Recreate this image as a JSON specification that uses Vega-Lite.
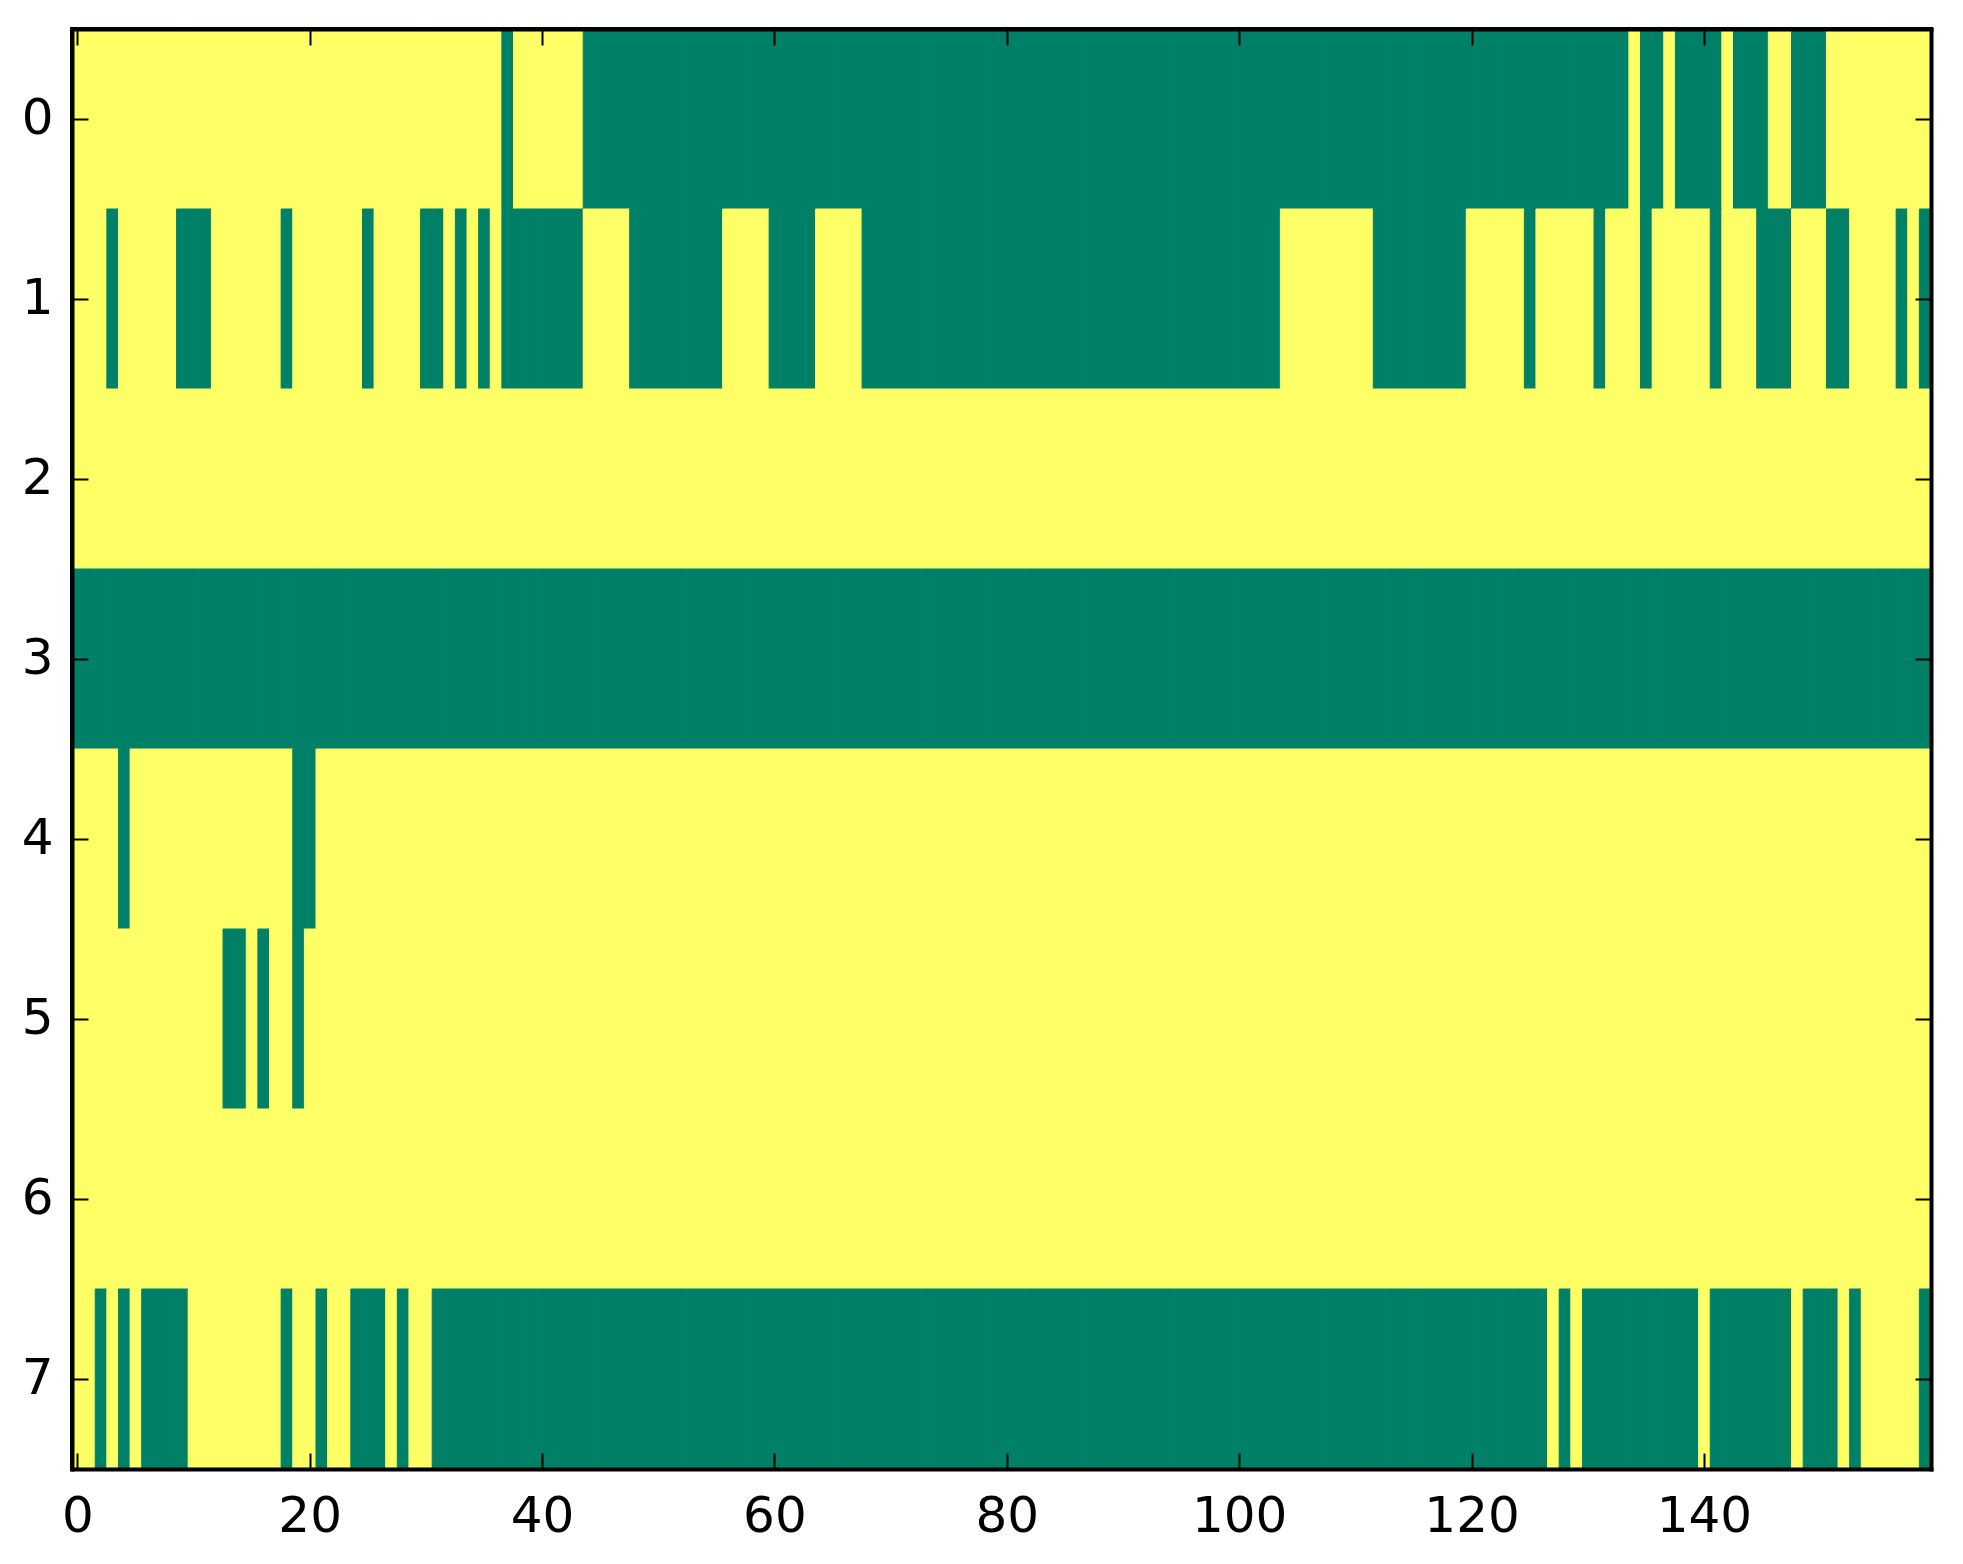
{
  "$schema": "https://vega.github.io/schema/vega-lite/v6.json",
  "width": 1859,
  "height": 1440,
  "autosize": "none",
  "padding": {"left": 72, "top": 29, "right": 32, "bottom": 95},
  "background": "white",
  "config": {
    "font": "DejaVu Sans",
    "view": {"stroke": "black", "strokeWidth": 4},
    "axis": {
      "title": null,
      "domain": true,
      "domainColor": "black",
      "domainWidth": 4,
      "domainCap": "square",
      "grid": false,
      "tickColor": "black",
      "tickWidth": 2,
      "tickSize": -16,
      "labelFont": "DejaVu Sans",
      "labelFontSize": 50,
      "labelColor": "black",
      "labelAngle": 0
    }
  },
  "data": {
    "values": [
      {"r":0,"c":0,"v":0},{"r":0,"c":1,"v":0},{"r":0,"c":2,"v":0},{"r":0,"c":3,"v":0},{"r":0,"c":4,"v":0},{"r":0,"c":5,"v":0},{"r":0,"c":6,"v":0},{"r":0,"c":7,"v":0},{"r":0,"c":8,"v":0},{"r":0,"c":9,"v":0},
      {"r":0,"c":10,"v":0},{"r":0,"c":11,"v":0},{"r":0,"c":12,"v":0},{"r":0,"c":13,"v":0},{"r":0,"c":14,"v":0},{"r":0,"c":15,"v":0},{"r":0,"c":16,"v":0},{"r":0,"c":17,"v":0},{"r":0,"c":18,"v":0},{"r":0,"c":19,"v":0},
      {"r":0,"c":20,"v":0},{"r":0,"c":21,"v":0},{"r":0,"c":22,"v":0},{"r":0,"c":23,"v":0},{"r":0,"c":24,"v":0},{"r":0,"c":25,"v":0},{"r":0,"c":26,"v":0},{"r":0,"c":27,"v":0},{"r":0,"c":28,"v":0},{"r":0,"c":29,"v":0},
      {"r":0,"c":30,"v":0},{"r":0,"c":31,"v":0},{"r":0,"c":32,"v":0},{"r":0,"c":33,"v":0},{"r":0,"c":34,"v":0},{"r":0,"c":35,"v":0},{"r":0,"c":36,"v":0},{"r":0,"c":37,"v":1},{"r":0,"c":38,"v":0},{"r":0,"c":39,"v":0},
      {"r":0,"c":40,"v":0},{"r":0,"c":41,"v":0},{"r":0,"c":42,"v":0},{"r":0,"c":43,"v":0},{"r":0,"c":44,"v":1},{"r":0,"c":45,"v":1},{"r":0,"c":46,"v":1},{"r":0,"c":47,"v":1},{"r":0,"c":48,"v":1},{"r":0,"c":49,"v":1},
      {"r":0,"c":50,"v":1},{"r":0,"c":51,"v":1},{"r":0,"c":52,"v":1},{"r":0,"c":53,"v":1},{"r":0,"c":54,"v":1},{"r":0,"c":55,"v":1},{"r":0,"c":56,"v":1},{"r":0,"c":57,"v":1},{"r":0,"c":58,"v":1},{"r":0,"c":59,"v":1},
      {"r":0,"c":60,"v":1},{"r":0,"c":61,"v":1},{"r":0,"c":62,"v":1},{"r":0,"c":63,"v":1},{"r":0,"c":64,"v":1},{"r":0,"c":65,"v":1},{"r":0,"c":66,"v":1},{"r":0,"c":67,"v":1},{"r":0,"c":68,"v":1},{"r":0,"c":69,"v":1},
      {"r":0,"c":70,"v":1},{"r":0,"c":71,"v":1},{"r":0,"c":72,"v":1},{"r":0,"c":73,"v":1},{"r":0,"c":74,"v":1},{"r":0,"c":75,"v":1},{"r":0,"c":76,"v":1},{"r":0,"c":77,"v":1},{"r":0,"c":78,"v":1},{"r":0,"c":79,"v":1},
      {"r":0,"c":80,"v":1},{"r":0,"c":81,"v":1},{"r":0,"c":82,"v":1},{"r":0,"c":83,"v":1},{"r":0,"c":84,"v":1},{"r":0,"c":85,"v":1},{"r":0,"c":86,"v":1},{"r":0,"c":87,"v":1},{"r":0,"c":88,"v":1},{"r":0,"c":89,"v":1},
      {"r":0,"c":90,"v":1},{"r":0,"c":91,"v":1},{"r":0,"c":92,"v":1},{"r":0,"c":93,"v":1},{"r":0,"c":94,"v":1},{"r":0,"c":95,"v":1},{"r":0,"c":96,"v":1},{"r":0,"c":97,"v":1},{"r":0,"c":98,"v":1},{"r":0,"c":99,"v":1},
      {"r":0,"c":100,"v":1},{"r":0,"c":101,"v":1},{"r":0,"c":102,"v":1},{"r":0,"c":103,"v":1},{"r":0,"c":104,"v":1},{"r":0,"c":105,"v":1},{"r":0,"c":106,"v":1},{"r":0,"c":107,"v":1},{"r":0,"c":108,"v":1},{"r":0,"c":109,"v":1},
      {"r":0,"c":110,"v":1},{"r":0,"c":111,"v":1},{"r":0,"c":112,"v":1},{"r":0,"c":113,"v":1},{"r":0,"c":114,"v":1},{"r":0,"c":115,"v":1},{"r":0,"c":116,"v":1},{"r":0,"c":117,"v":1},{"r":0,"c":118,"v":1},{"r":0,"c":119,"v":1},
      {"r":0,"c":120,"v":1},{"r":0,"c":121,"v":1},{"r":0,"c":122,"v":1},{"r":0,"c":123,"v":1},{"r":0,"c":124,"v":1},{"r":0,"c":125,"v":1},{"r":0,"c":126,"v":1},{"r":0,"c":127,"v":1},{"r":0,"c":128,"v":1},{"r":0,"c":129,"v":1},
      {"r":0,"c":130,"v":1},{"r":0,"c":131,"v":1},{"r":0,"c":132,"v":1},{"r":0,"c":133,"v":1},{"r":0,"c":134,"v":0},{"r":0,"c":135,"v":1},{"r":0,"c":136,"v":1},{"r":0,"c":137,"v":0},{"r":0,"c":138,"v":1},{"r":0,"c":139,"v":1},
      {"r":0,"c":140,"v":1},{"r":0,"c":141,"v":1},{"r":0,"c":142,"v":0},{"r":0,"c":143,"v":1},{"r":0,"c":144,"v":1},{"r":0,"c":145,"v":1},{"r":0,"c":146,"v":0},{"r":0,"c":147,"v":0},{"r":0,"c":148,"v":1},{"r":0,"c":149,"v":1},
      {"r":0,"c":150,"v":1},{"r":0,"c":151,"v":0},{"r":0,"c":152,"v":0},{"r":0,"c":153,"v":0},{"r":0,"c":154,"v":0},{"r":0,"c":155,"v":0},{"r":0,"c":156,"v":0},{"r":0,"c":157,"v":0},{"r":0,"c":158,"v":0},{"r":0,"c":159,"v":0},

      {"r":1,"c":0,"v":0},{"r":1,"c":1,"v":0},{"r":1,"c":2,"v":0},{"r":1,"c":3,"v":1},{"r":1,"c":4,"v":0},{"r":1,"c":5,"v":0},{"r":1,"c":6,"v":0},{"r":1,"c":7,"v":0},{"r":1,"c":8,"v":0},{"r":1,"c":9,"v":1},
      {"r":1,"c":10,"v":1},{"r":1,"c":11,"v":1},{"r":1,"c":12,"v":0},{"r":1,"c":13,"v":0},{"r":1,"c":14,"v":0},{"r":1,"c":15,"v":0},{"r":1,"c":16,"v":0},{"r":1,"c":17,"v":0},{"r":1,"c":18,"v":1},{"r":1,"c":19,"v":0},
      {"r":1,"c":20,"v":0},{"r":1,"c":21,"v":0},{"r":1,"c":22,"v":0},{"r":1,"c":23,"v":0},{"r":1,"c":24,"v":0},{"r":1,"c":25,"v":1},{"r":1,"c":26,"v":0},{"r":1,"c":27,"v":0},{"r":1,"c":28,"v":0},{"r":1,"c":29,"v":0},
      {"r":1,"c":30,"v":1},{"r":1,"c":31,"v":1},{"r":1,"c":32,"v":0},{"r":1,"c":33,"v":1},{"r":1,"c":34,"v":0},{"r":1,"c":35,"v":1},{"r":1,"c":36,"v":0},{"r":1,"c":37,"v":1},{"r":1,"c":38,"v":1},{"r":1,"c":39,"v":1},
      {"r":1,"c":40,"v":1},{"r":1,"c":41,"v":1},{"r":1,"c":42,"v":1},{"r":1,"c":43,"v":1},{"r":1,"c":44,"v":0},{"r":1,"c":45,"v":0},{"r":1,"c":46,"v":0},{"r":1,"c":47,"v":0},{"r":1,"c":48,"v":1},{"r":1,"c":49,"v":1},
      {"r":1,"c":50,"v":1},{"r":1,"c":51,"v":1},{"r":1,"c":52,"v":1},{"r":1,"c":53,"v":1},{"r":1,"c":54,"v":1},{"r":1,"c":55,"v":1},{"r":1,"c":56,"v":0},{"r":1,"c":57,"v":0},{"r":1,"c":58,"v":0},{"r":1,"c":59,"v":0},
      {"r":1,"c":60,"v":1},{"r":1,"c":61,"v":1},{"r":1,"c":62,"v":1},{"r":1,"c":63,"v":1},{"r":1,"c":64,"v":0},{"r":1,"c":65,"v":0},{"r":1,"c":66,"v":0},{"r":1,"c":67,"v":0},{"r":1,"c":68,"v":1},{"r":1,"c":69,"v":1},
      {"r":1,"c":70,"v":1},{"r":1,"c":71,"v":1},{"r":1,"c":72,"v":1},{"r":1,"c":73,"v":1},{"r":1,"c":74,"v":1},{"r":1,"c":75,"v":1},{"r":1,"c":76,"v":1},{"r":1,"c":77,"v":1},{"r":1,"c":78,"v":1},{"r":1,"c":79,"v":1},
      {"r":1,"c":80,"v":1},{"r":1,"c":81,"v":1},{"r":1,"c":82,"v":1},{"r":1,"c":83,"v":1},{"r":1,"c":84,"v":1},{"r":1,"c":85,"v":1},{"r":1,"c":86,"v":1},{"r":1,"c":87,"v":1},{"r":1,"c":88,"v":1},{"r":1,"c":89,"v":1},
      {"r":1,"c":90,"v":1},{"r":1,"c":91,"v":1},{"r":1,"c":92,"v":1},{"r":1,"c":93,"v":1},{"r":1,"c":94,"v":1},{"r":1,"c":95,"v":1},{"r":1,"c":96,"v":1},{"r":1,"c":97,"v":1},{"r":1,"c":98,"v":1},{"r":1,"c":99,"v":1},
      {"r":1,"c":100,"v":1},{"r":1,"c":101,"v":1},{"r":1,"c":102,"v":1},{"r":1,"c":103,"v":1},{"r":1,"c":104,"v":0},{"r":1,"c":105,"v":0},{"r":1,"c":106,"v":0},{"r":1,"c":107,"v":0},{"r":1,"c":108,"v":0},{"r":1,"c":109,"v":0},
      {"r":1,"c":110,"v":0},{"r":1,"c":111,"v":0},{"r":1,"c":112,"v":1},{"r":1,"c":113,"v":1},{"r":1,"c":114,"v":1},{"r":1,"c":115,"v":1},{"r":1,"c":116,"v":1},{"r":1,"c":117,"v":1},{"r":1,"c":118,"v":1},{"r":1,"c":119,"v":1},
      {"r":1,"c":120,"v":0},{"r":1,"c":121,"v":0},{"r":1,"c":122,"v":0},{"r":1,"c":123,"v":0},{"r":1,"c":124,"v":0},{"r":1,"c":125,"v":1},{"r":1,"c":126,"v":0},{"r":1,"c":127,"v":0},{"r":1,"c":128,"v":0},{"r":1,"c":129,"v":0},
      {"r":1,"c":130,"v":0},{"r":1,"c":131,"v":1},{"r":1,"c":132,"v":0},{"r":1,"c":133,"v":0},{"r":1,"c":134,"v":0},{"r":1,"c":135,"v":1},{"r":1,"c":136,"v":0},{"r":1,"c":137,"v":0},{"r":1,"c":138,"v":0},{"r":1,"c":139,"v":0},
      {"r":1,"c":140,"v":0},{"r":1,"c":141,"v":1},{"r":1,"c":142,"v":0},{"r":1,"c":143,"v":0},{"r":1,"c":144,"v":0},{"r":1,"c":145,"v":1},{"r":1,"c":146,"v":1},{"r":1,"c":147,"v":1},{"r":1,"c":148,"v":0},{"r":1,"c":149,"v":0},
      {"r":1,"c":150,"v":0},{"r":1,"c":151,"v":1},{"r":1,"c":152,"v":1},{"r":1,"c":153,"v":0},{"r":1,"c":154,"v":0},{"r":1,"c":155,"v":0},{"r":1,"c":156,"v":0},{"r":1,"c":157,"v":1},{"r":1,"c":158,"v":0},{"r":1,"c":159,"v":1},

      {"r":2,"c":0,"v":0},{"r":2,"c":1,"v":0},{"r":2,"c":2,"v":0},{"r":2,"c":3,"v":0},{"r":2,"c":4,"v":0},{"r":2,"c":5,"v":0},{"r":2,"c":6,"v":0},{"r":2,"c":7,"v":0},{"r":2,"c":8,"v":0},{"r":2,"c":9,"v":0},
      {"r":2,"c":10,"v":0},{"r":2,"c":11,"v":0},{"r":2,"c":12,"v":0},{"r":2,"c":13,"v":0},{"r":2,"c":14,"v":0},{"r":2,"c":15,"v":0},{"r":2,"c":16,"v":0},{"r":2,"c":17,"v":0},{"r":2,"c":18,"v":0},{"r":2,"c":19,"v":0},
      {"r":2,"c":20,"v":0},{"r":2,"c":21,"v":0},{"r":2,"c":22,"v":0},{"r":2,"c":23,"v":0},{"r":2,"c":24,"v":0},{"r":2,"c":25,"v":0},{"r":2,"c":26,"v":0},{"r":2,"c":27,"v":0},{"r":2,"c":28,"v":0},{"r":2,"c":29,"v":0},
      {"r":2,"c":30,"v":0},{"r":2,"c":31,"v":0},{"r":2,"c":32,"v":0},{"r":2,"c":33,"v":0},{"r":2,"c":34,"v":0},{"r":2,"c":35,"v":0},{"r":2,"c":36,"v":0},{"r":2,"c":37,"v":0},{"r":2,"c":38,"v":0},{"r":2,"c":39,"v":0},
      {"r":2,"c":40,"v":0},{"r":2,"c":41,"v":0},{"r":2,"c":42,"v":0},{"r":2,"c":43,"v":0},{"r":2,"c":44,"v":0},{"r":2,"c":45,"v":0},{"r":2,"c":46,"v":0},{"r":2,"c":47,"v":0},{"r":2,"c":48,"v":0},{"r":2,"c":49,"v":0},
      {"r":2,"c":50,"v":0},{"r":2,"c":51,"v":0},{"r":2,"c":52,"v":0},{"r":2,"c":53,"v":0},{"r":2,"c":54,"v":0},{"r":2,"c":55,"v":0},{"r":2,"c":56,"v":0},{"r":2,"c":57,"v":0},{"r":2,"c":58,"v":0},{"r":2,"c":59,"v":0},
      {"r":2,"c":60,"v":0},{"r":2,"c":61,"v":0},{"r":2,"c":62,"v":0},{"r":2,"c":63,"v":0},{"r":2,"c":64,"v":0},{"r":2,"c":65,"v":0},{"r":2,"c":66,"v":0},{"r":2,"c":67,"v":0},{"r":2,"c":68,"v":0},{"r":2,"c":69,"v":0},
      {"r":2,"c":70,"v":0},{"r":2,"c":71,"v":0},{"r":2,"c":72,"v":0},{"r":2,"c":73,"v":0},{"r":2,"c":74,"v":0},{"r":2,"c":75,"v":0},{"r":2,"c":76,"v":0},{"r":2,"c":77,"v":0},{"r":2,"c":78,"v":0},{"r":2,"c":79,"v":0},
      {"r":2,"c":80,"v":0},{"r":2,"c":81,"v":0},{"r":2,"c":82,"v":0},{"r":2,"c":83,"v":0},{"r":2,"c":84,"v":0},{"r":2,"c":85,"v":0},{"r":2,"c":86,"v":0},{"r":2,"c":87,"v":0},{"r":2,"c":88,"v":0},{"r":2,"c":89,"v":0},
      {"r":2,"c":90,"v":0},{"r":2,"c":91,"v":0},{"r":2,"c":92,"v":0},{"r":2,"c":93,"v":0},{"r":2,"c":94,"v":0},{"r":2,"c":95,"v":0},{"r":2,"c":96,"v":0},{"r":2,"c":97,"v":0},{"r":2,"c":98,"v":0},{"r":2,"c":99,"v":0},
      {"r":2,"c":100,"v":0},{"r":2,"c":101,"v":0},{"r":2,"c":102,"v":0},{"r":2,"c":103,"v":0},{"r":2,"c":104,"v":0},{"r":2,"c":105,"v":0},{"r":2,"c":106,"v":0},{"r":2,"c":107,"v":0},{"r":2,"c":108,"v":0},{"r":2,"c":109,"v":0},
      {"r":2,"c":110,"v":0},{"r":2,"c":111,"v":0},{"r":2,"c":112,"v":0},{"r":2,"c":113,"v":0},{"r":2,"c":114,"v":0},{"r":2,"c":115,"v":0},{"r":2,"c":116,"v":0},{"r":2,"c":117,"v":0},{"r":2,"c":118,"v":0},{"r":2,"c":119,"v":0},
      {"r":2,"c":120,"v":0},{"r":2,"c":121,"v":0},{"r":2,"c":122,"v":0},{"r":2,"c":123,"v":0},{"r":2,"c":124,"v":0},{"r":2,"c":125,"v":0},{"r":2,"c":126,"v":0},{"r":2,"c":127,"v":0},{"r":2,"c":128,"v":0},{"r":2,"c":129,"v":0},
      {"r":2,"c":130,"v":0},{"r":2,"c":131,"v":0},{"r":2,"c":132,"v":0},{"r":2,"c":133,"v":0},{"r":2,"c":134,"v":0},{"r":2,"c":135,"v":0},{"r":2,"c":136,"v":0},{"r":2,"c":137,"v":0},{"r":2,"c":138,"v":0},{"r":2,"c":139,"v":0},
      {"r":2,"c":140,"v":0},{"r":2,"c":141,"v":0},{"r":2,"c":142,"v":0},{"r":2,"c":143,"v":0},{"r":2,"c":144,"v":0},{"r":2,"c":145,"v":0},{"r":2,"c":146,"v":0},{"r":2,"c":147,"v":0},{"r":2,"c":148,"v":0},{"r":2,"c":149,"v":0},
      {"r":2,"c":150,"v":0},{"r":2,"c":151,"v":0},{"r":2,"c":152,"v":0},{"r":2,"c":153,"v":0},{"r":2,"c":154,"v":0},{"r":2,"c":155,"v":0},{"r":2,"c":156,"v":0},{"r":2,"c":157,"v":0},{"r":2,"c":158,"v":0},{"r":2,"c":159,"v":0},

      {"r":3,"c":0,"v":1},{"r":3,"c":1,"v":1},{"r":3,"c":2,"v":1},{"r":3,"c":3,"v":1},{"r":3,"c":4,"v":1},{"r":3,"c":5,"v":1},{"r":3,"c":6,"v":1},{"r":3,"c":7,"v":1},{"r":3,"c":8,"v":1},{"r":3,"c":9,"v":1},
      {"r":3,"c":10,"v":1},{"r":3,"c":11,"v":1},{"r":3,"c":12,"v":1},{"r":3,"c":13,"v":1},{"r":3,"c":14,"v":1},{"r":3,"c":15,"v":1},{"r":3,"c":16,"v":1},{"r":3,"c":17,"v":1},{"r":3,"c":18,"v":1},{"r":3,"c":19,"v":1},
      {"r":3,"c":20,"v":1},{"r":3,"c":21,"v":1},{"r":3,"c":22,"v":1},{"r":3,"c":23,"v":1},{"r":3,"c":24,"v":1},{"r":3,"c":25,"v":1},{"r":3,"c":26,"v":1},{"r":3,"c":27,"v":1},{"r":3,"c":28,"v":1},{"r":3,"c":29,"v":1},
      {"r":3,"c":30,"v":1},{"r":3,"c":31,"v":1},{"r":3,"c":32,"v":1},{"r":3,"c":33,"v":1},{"r":3,"c":34,"v":1},{"r":3,"c":35,"v":1},{"r":3,"c":36,"v":1},{"r":3,"c":37,"v":1},{"r":3,"c":38,"v":1},{"r":3,"c":39,"v":1},
      {"r":3,"c":40,"v":1},{"r":3,"c":41,"v":1},{"r":3,"c":42,"v":1},{"r":3,"c":43,"v":1},{"r":3,"c":44,"v":1},{"r":3,"c":45,"v":1},{"r":3,"c":46,"v":1},{"r":3,"c":47,"v":1},{"r":3,"c":48,"v":1},{"r":3,"c":49,"v":1},
      {"r":3,"c":50,"v":1},{"r":3,"c":51,"v":1},{"r":3,"c":52,"v":1},{"r":3,"c":53,"v":1},{"r":3,"c":54,"v":1},{"r":3,"c":55,"v":1},{"r":3,"c":56,"v":1},{"r":3,"c":57,"v":1},{"r":3,"c":58,"v":1},{"r":3,"c":59,"v":1},
      {"r":3,"c":60,"v":1},{"r":3,"c":61,"v":1},{"r":3,"c":62,"v":1},{"r":3,"c":63,"v":1},{"r":3,"c":64,"v":1},{"r":3,"c":65,"v":1},{"r":3,"c":66,"v":1},{"r":3,"c":67,"v":1},{"r":3,"c":68,"v":1},{"r":3,"c":69,"v":1},
      {"r":3,"c":70,"v":1},{"r":3,"c":71,"v":1},{"r":3,"c":72,"v":1},{"r":3,"c":73,"v":1},{"r":3,"c":74,"v":1},{"r":3,"c":75,"v":1},{"r":3,"c":76,"v":1},{"r":3,"c":77,"v":1},{"r":3,"c":78,"v":1},{"r":3,"c":79,"v":1},
      {"r":3,"c":80,"v":1},{"r":3,"c":81,"v":1},{"r":3,"c":82,"v":1},{"r":3,"c":83,"v":1},{"r":3,"c":84,"v":1},{"r":3,"c":85,"v":1},{"r":3,"c":86,"v":1},{"r":3,"c":87,"v":1},{"r":3,"c":88,"v":1},{"r":3,"c":89,"v":1},
      {"r":3,"c":90,"v":1},{"r":3,"c":91,"v":1},{"r":3,"c":92,"v":1},{"r":3,"c":93,"v":1},{"r":3,"c":94,"v":1},{"r":3,"c":95,"v":1},{"r":3,"c":96,"v":1},{"r":3,"c":97,"v":1},{"r":3,"c":98,"v":1},{"r":3,"c":99,"v":1},
      {"r":3,"c":100,"v":1},{"r":3,"c":101,"v":1},{"r":3,"c":102,"v":1},{"r":3,"c":103,"v":1},{"r":3,"c":104,"v":1},{"r":3,"c":105,"v":1},{"r":3,"c":106,"v":1},{"r":3,"c":107,"v":1},{"r":3,"c":108,"v":1},{"r":3,"c":109,"v":1},
      {"r":3,"c":110,"v":1},{"r":3,"c":111,"v":1},{"r":3,"c":112,"v":1},{"r":3,"c":113,"v":1},{"r":3,"c":114,"v":1},{"r":3,"c":115,"v":1},{"r":3,"c":116,"v":1},{"r":3,"c":117,"v":1},{"r":3,"c":118,"v":1},{"r":3,"c":119,"v":1},
      {"r":3,"c":120,"v":1},{"r":3,"c":121,"v":1},{"r":3,"c":122,"v":1},{"r":3,"c":123,"v":1},{"r":3,"c":124,"v":1},{"r":3,"c":125,"v":1},{"r":3,"c":126,"v":1},{"r":3,"c":127,"v":1},{"r":3,"c":128,"v":1},{"r":3,"c":129,"v":1},
      {"r":3,"c":130,"v":1},{"r":3,"c":131,"v":1},{"r":3,"c":132,"v":1},{"r":3,"c":133,"v":1},{"r":3,"c":134,"v":1},{"r":3,"c":135,"v":1},{"r":3,"c":136,"v":1},{"r":3,"c":137,"v":1},{"r":3,"c":138,"v":1},{"r":3,"c":139,"v":1},
      {"r":3,"c":140,"v":1},{"r":3,"c":141,"v":1},{"r":3,"c":142,"v":1},{"r":3,"c":143,"v":1},{"r":3,"c":144,"v":1},{"r":3,"c":145,"v":1},{"r":3,"c":146,"v":1},{"r":3,"c":147,"v":1},{"r":3,"c":148,"v":1},{"r":3,"c":149,"v":1},
      {"r":3,"c":150,"v":1},{"r":3,"c":151,"v":1},{"r":3,"c":152,"v":1},{"r":3,"c":153,"v":1},{"r":3,"c":154,"v":1},{"r":3,"c":155,"v":1},{"r":3,"c":156,"v":1},{"r":3,"c":157,"v":1},{"r":3,"c":158,"v":1},{"r":3,"c":159,"v":1},

      {"r":4,"c":0,"v":0},{"r":4,"c":1,"v":0},{"r":4,"c":2,"v":0},{"r":4,"c":3,"v":0},{"r":4,"c":4,"v":1},{"r":4,"c":5,"v":0},{"r":4,"c":6,"v":0},{"r":4,"c":7,"v":0},{"r":4,"c":8,"v":0},{"r":4,"c":9,"v":0},
      {"r":4,"c":10,"v":0},{"r":4,"c":11,"v":0},{"r":4,"c":12,"v":0},{"r":4,"c":13,"v":0},{"r":4,"c":14,"v":0},{"r":4,"c":15,"v":0},{"r":4,"c":16,"v":0},{"r":4,"c":17,"v":0},{"r":4,"c":18,"v":0},{"r":4,"c":19,"v":1},
      {"r":4,"c":20,"v":1},{"r":4,"c":21,"v":0},{"r":4,"c":22,"v":0},{"r":4,"c":23,"v":0},{"r":4,"c":24,"v":0},{"r":4,"c":25,"v":0},{"r":4,"c":26,"v":0},{"r":4,"c":27,"v":0},{"r":4,"c":28,"v":0},{"r":4,"c":29,"v":0},
      {"r":4,"c":30,"v":0},{"r":4,"c":31,"v":0},{"r":4,"c":32,"v":0},{"r":4,"c":33,"v":0},{"r":4,"c":34,"v":0},{"r":4,"c":35,"v":0},{"r":4,"c":36,"v":0},{"r":4,"c":37,"v":0},{"r":4,"c":38,"v":0},{"r":4,"c":39,"v":0},
      {"r":4,"c":40,"v":0},{"r":4,"c":41,"v":0},{"r":4,"c":42,"v":0},{"r":4,"c":43,"v":0},{"r":4,"c":44,"v":0},{"r":4,"c":45,"v":0},{"r":4,"c":46,"v":0},{"r":4,"c":47,"v":0},{"r":4,"c":48,"v":0},{"r":4,"c":49,"v":0},
      {"r":4,"c":50,"v":0},{"r":4,"c":51,"v":0},{"r":4,"c":52,"v":0},{"r":4,"c":53,"v":0},{"r":4,"c":54,"v":0},{"r":4,"c":55,"v":0},{"r":4,"c":56,"v":0},{"r":4,"c":57,"v":0},{"r":4,"c":58,"v":0},{"r":4,"c":59,"v":0},
      {"r":4,"c":60,"v":0},{"r":4,"c":61,"v":0},{"r":4,"c":62,"v":0},{"r":4,"c":63,"v":0},{"r":4,"c":64,"v":0},{"r":4,"c":65,"v":0},{"r":4,"c":66,"v":0},{"r":4,"c":67,"v":0},{"r":4,"c":68,"v":0},{"r":4,"c":69,"v":0},
      {"r":4,"c":70,"v":0},{"r":4,"c":71,"v":0},{"r":4,"c":72,"v":0},{"r":4,"c":73,"v":0},{"r":4,"c":74,"v":0},{"r":4,"c":75,"v":0},{"r":4,"c":76,"v":0},{"r":4,"c":77,"v":0},{"r":4,"c":78,"v":0},{"r":4,"c":79,"v":0},
      {"r":4,"c":80,"v":0},{"r":4,"c":81,"v":0},{"r":4,"c":82,"v":0},{"r":4,"c":83,"v":0},{"r":4,"c":84,"v":0},{"r":4,"c":85,"v":0},{"r":4,"c":86,"v":0},{"r":4,"c":87,"v":0},{"r":4,"c":88,"v":0},{"r":4,"c":89,"v":0},
      {"r":4,"c":90,"v":0},{"r":4,"c":91,"v":0},{"r":4,"c":92,"v":0},{"r":4,"c":93,"v":0},{"r":4,"c":94,"v":0},{"r":4,"c":95,"v":0},{"r":4,"c":96,"v":0},{"r":4,"c":97,"v":0},{"r":4,"c":98,"v":0},{"r":4,"c":99,"v":0},
      {"r":4,"c":100,"v":0},{"r":4,"c":101,"v":0},{"r":4,"c":102,"v":0},{"r":4,"c":103,"v":0},{"r":4,"c":104,"v":0},{"r":4,"c":105,"v":0},{"r":4,"c":106,"v":0},{"r":4,"c":107,"v":0},{"r":4,"c":108,"v":0},{"r":4,"c":109,"v":0},
      {"r":4,"c":110,"v":0},{"r":4,"c":111,"v":0},{"r":4,"c":112,"v":0},{"r":4,"c":113,"v":0},{"r":4,"c":114,"v":0},{"r":4,"c":115,"v":0},{"r":4,"c":116,"v":0},{"r":4,"c":117,"v":0},{"r":4,"c":118,"v":0},{"r":4,"c":119,"v":0},
      {"r":4,"c":120,"v":0},{"r":4,"c":121,"v":0},{"r":4,"c":122,"v":0},{"r":4,"c":123,"v":0},{"r":4,"c":124,"v":0},{"r":4,"c":125,"v":0},{"r":4,"c":126,"v":0},{"r":4,"c":127,"v":0},{"r":4,"c":128,"v":0},{"r":4,"c":129,"v":0},
      {"r":4,"c":130,"v":0},{"r":4,"c":131,"v":0},{"r":4,"c":132,"v":0},{"r":4,"c":133,"v":0},{"r":4,"c":134,"v":0},{"r":4,"c":135,"v":0},{"r":4,"c":136,"v":0},{"r":4,"c":137,"v":0},{"r":4,"c":138,"v":0},{"r":4,"c":139,"v":0},
      {"r":4,"c":140,"v":0},{"r":4,"c":141,"v":0},{"r":4,"c":142,"v":0},{"r":4,"c":143,"v":0},{"r":4,"c":144,"v":0},{"r":4,"c":145,"v":0},{"r":4,"c":146,"v":0},{"r":4,"c":147,"v":0},{"r":4,"c":148,"v":0},{"r":4,"c":149,"v":0},
      {"r":4,"c":150,"v":0},{"r":4,"c":151,"v":0},{"r":4,"c":152,"v":0},{"r":4,"c":153,"v":0},{"r":4,"c":154,"v":0},{"r":4,"c":155,"v":0},{"r":4,"c":156,"v":0},{"r":4,"c":157,"v":0},{"r":4,"c":158,"v":0},{"r":4,"c":159,"v":0},

      {"r":5,"c":0,"v":0},{"r":5,"c":1,"v":0},{"r":5,"c":2,"v":0},{"r":5,"c":3,"v":0},{"r":5,"c":4,"v":0},{"r":5,"c":5,"v":0},{"r":5,"c":6,"v":0},{"r":5,"c":7,"v":0},{"r":5,"c":8,"v":0},{"r":5,"c":9,"v":0},
      {"r":5,"c":10,"v":0},{"r":5,"c":11,"v":0},{"r":5,"c":12,"v":0},{"r":5,"c":13,"v":1},{"r":5,"c":14,"v":1},{"r":5,"c":15,"v":0},{"r":5,"c":16,"v":1},{"r":5,"c":17,"v":0},{"r":5,"c":18,"v":0},{"r":5,"c":19,"v":1},
      {"r":5,"c":20,"v":0},{"r":5,"c":21,"v":0},{"r":5,"c":22,"v":0},{"r":5,"c":23,"v":0},{"r":5,"c":24,"v":0},{"r":5,"c":25,"v":0},{"r":5,"c":26,"v":0},{"r":5,"c":27,"v":0},{"r":5,"c":28,"v":0},{"r":5,"c":29,"v":0},
      {"r":5,"c":30,"v":0},{"r":5,"c":31,"v":0},{"r":5,"c":32,"v":0},{"r":5,"c":33,"v":0},{"r":5,"c":34,"v":0},{"r":5,"c":35,"v":0},{"r":5,"c":36,"v":0},{"r":5,"c":37,"v":0},{"r":5,"c":38,"v":0},{"r":5,"c":39,"v":0},
      {"r":5,"c":40,"v":0},{"r":5,"c":41,"v":0},{"r":5,"c":42,"v":0},{"r":5,"c":43,"v":0},{"r":5,"c":44,"v":0},{"r":5,"c":45,"v":0},{"r":5,"c":46,"v":0},{"r":5,"c":47,"v":0},{"r":5,"c":48,"v":0},{"r":5,"c":49,"v":0},
      {"r":5,"c":50,"v":0},{"r":5,"c":51,"v":0},{"r":5,"c":52,"v":0},{"r":5,"c":53,"v":0},{"r":5,"c":54,"v":0},{"r":5,"c":55,"v":0},{"r":5,"c":56,"v":0},{"r":5,"c":57,"v":0},{"r":5,"c":58,"v":0},{"r":5,"c":59,"v":0},
      {"r":5,"c":60,"v":0},{"r":5,"c":61,"v":0},{"r":5,"c":62,"v":0},{"r":5,"c":63,"v":0},{"r":5,"c":64,"v":0},{"r":5,"c":65,"v":0},{"r":5,"c":66,"v":0},{"r":5,"c":67,"v":0},{"r":5,"c":68,"v":0},{"r":5,"c":69,"v":0},
      {"r":5,"c":70,"v":0},{"r":5,"c":71,"v":0},{"r":5,"c":72,"v":0},{"r":5,"c":73,"v":0},{"r":5,"c":74,"v":0},{"r":5,"c":75,"v":0},{"r":5,"c":76,"v":0},{"r":5,"c":77,"v":0},{"r":5,"c":78,"v":0},{"r":5,"c":79,"v":0},
      {"r":5,"c":80,"v":0},{"r":5,"c":81,"v":0},{"r":5,"c":82,"v":0},{"r":5,"c":83,"v":0},{"r":5,"c":84,"v":0},{"r":5,"c":85,"v":0},{"r":5,"c":86,"v":0},{"r":5,"c":87,"v":0},{"r":5,"c":88,"v":0},{"r":5,"c":89,"v":0},
      {"r":5,"c":90,"v":0},{"r":5,"c":91,"v":0},{"r":5,"c":92,"v":0},{"r":5,"c":93,"v":0},{"r":5,"c":94,"v":0},{"r":5,"c":95,"v":0},{"r":5,"c":96,"v":0},{"r":5,"c":97,"v":0},{"r":5,"c":98,"v":0},{"r":5,"c":99,"v":0},
      {"r":5,"c":100,"v":0},{"r":5,"c":101,"v":0},{"r":5,"c":102,"v":0},{"r":5,"c":103,"v":0},{"r":5,"c":104,"v":0},{"r":5,"c":105,"v":0},{"r":5,"c":106,"v":0},{"r":5,"c":107,"v":0},{"r":5,"c":108,"v":0},{"r":5,"c":109,"v":0},
      {"r":5,"c":110,"v":0},{"r":5,"c":111,"v":0},{"r":5,"c":112,"v":0},{"r":5,"c":113,"v":0},{"r":5,"c":114,"v":0},{"r":5,"c":115,"v":0},{"r":5,"c":116,"v":0},{"r":5,"c":117,"v":0},{"r":5,"c":118,"v":0},{"r":5,"c":119,"v":0},
      {"r":5,"c":120,"v":0},{"r":5,"c":121,"v":0},{"r":5,"c":122,"v":0},{"r":5,"c":123,"v":0},{"r":5,"c":124,"v":0},{"r":5,"c":125,"v":0},{"r":5,"c":126,"v":0},{"r":5,"c":127,"v":0},{"r":5,"c":128,"v":0},{"r":5,"c":129,"v":0},
      {"r":5,"c":130,"v":0},{"r":5,"c":131,"v":0},{"r":5,"c":132,"v":0},{"r":5,"c":133,"v":0},{"r":5,"c":134,"v":0},{"r":5,"c":135,"v":0},{"r":5,"c":136,"v":0},{"r":5,"c":137,"v":0},{"r":5,"c":138,"v":0},{"r":5,"c":139,"v":0},
      {"r":5,"c":140,"v":0},{"r":5,"c":141,"v":0},{"r":5,"c":142,"v":0},{"r":5,"c":143,"v":0},{"r":5,"c":144,"v":0},{"r":5,"c":145,"v":0},{"r":5,"c":146,"v":0},{"r":5,"c":147,"v":0},{"r":5,"c":148,"v":0},{"r":5,"c":149,"v":0},
      {"r":5,"c":150,"v":0},{"r":5,"c":151,"v":0},{"r":5,"c":152,"v":0},{"r":5,"c":153,"v":0},{"r":5,"c":154,"v":0},{"r":5,"c":155,"v":0},{"r":5,"c":156,"v":0},{"r":5,"c":157,"v":0},{"r":5,"c":158,"v":0},{"r":5,"c":159,"v":0},

      {"r":6,"c":0,"v":0},{"r":6,"c":1,"v":0},{"r":6,"c":2,"v":0},{"r":6,"c":3,"v":0},{"r":6,"c":4,"v":0},{"r":6,"c":5,"v":0},{"r":6,"c":6,"v":0},{"r":6,"c":7,"v":0},{"r":6,"c":8,"v":0},{"r":6,"c":9,"v":0},
      {"r":6,"c":10,"v":0},{"r":6,"c":11,"v":0},{"r":6,"c":12,"v":0},{"r":6,"c":13,"v":0},{"r":6,"c":14,"v":0},{"r":6,"c":15,"v":0},{"r":6,"c":16,"v":0},{"r":6,"c":17,"v":0},{"r":6,"c":18,"v":0},{"r":6,"c":19,"v":0},
      {"r":6,"c":20,"v":0},{"r":6,"c":21,"v":0},{"r":6,"c":22,"v":0},{"r":6,"c":23,"v":0},{"r":6,"c":24,"v":0},{"r":6,"c":25,"v":0},{"r":6,"c":26,"v":0},{"r":6,"c":27,"v":0},{"r":6,"c":28,"v":0},{"r":6,"c":29,"v":0},
      {"r":6,"c":30,"v":0},{"r":6,"c":31,"v":0},{"r":6,"c":32,"v":0},{"r":6,"c":33,"v":0},{"r":6,"c":34,"v":0},{"r":6,"c":35,"v":0},{"r":6,"c":36,"v":0},{"r":6,"c":37,"v":0},{"r":6,"c":38,"v":0},{"r":6,"c":39,"v":0},
      {"r":6,"c":40,"v":0},{"r":6,"c":41,"v":0},{"r":6,"c":42,"v":0},{"r":6,"c":43,"v":0},{"r":6,"c":44,"v":0},{"r":6,"c":45,"v":0},{"r":6,"c":46,"v":0},{"r":6,"c":47,"v":0},{"r":6,"c":48,"v":0},{"r":6,"c":49,"v":0},
      {"r":6,"c":50,"v":0},{"r":6,"c":51,"v":0},{"r":6,"c":52,"v":0},{"r":6,"c":53,"v":0},{"r":6,"c":54,"v":0},{"r":6,"c":55,"v":0},{"r":6,"c":56,"v":0},{"r":6,"c":57,"v":0},{"r":6,"c":58,"v":0},{"r":6,"c":59,"v":0},
      {"r":6,"c":60,"v":0},{"r":6,"c":61,"v":0},{"r":6,"c":62,"v":0},{"r":6,"c":63,"v":0},{"r":6,"c":64,"v":0},{"r":6,"c":65,"v":0},{"r":6,"c":66,"v":0},{"r":6,"c":67,"v":0},{"r":6,"c":68,"v":0},{"r":6,"c":69,"v":0},
      {"r":6,"c":70,"v":0},{"r":6,"c":71,"v":0},{"r":6,"c":72,"v":0},{"r":6,"c":73,"v":0},{"r":6,"c":74,"v":0},{"r":6,"c":75,"v":0},{"r":6,"c":76,"v":0},{"r":6,"c":77,"v":0},{"r":6,"c":78,"v":0},{"r":6,"c":79,"v":0},
      {"r":6,"c":80,"v":0},{"r":6,"c":81,"v":0},{"r":6,"c":82,"v":0},{"r":6,"c":83,"v":0},{"r":6,"c":84,"v":0},{"r":6,"c":85,"v":0},{"r":6,"c":86,"v":0},{"r":6,"c":87,"v":0},{"r":6,"c":88,"v":0},{"r":6,"c":89,"v":0},
      {"r":6,"c":90,"v":0},{"r":6,"c":91,"v":0},{"r":6,"c":92,"v":0},{"r":6,"c":93,"v":0},{"r":6,"c":94,"v":0},{"r":6,"c":95,"v":0},{"r":6,"c":96,"v":0},{"r":6,"c":97,"v":0},{"r":6,"c":98,"v":0},{"r":6,"c":99,"v":0},
      {"r":6,"c":100,"v":0},{"r":6,"c":101,"v":0},{"r":6,"c":102,"v":0},{"r":6,"c":103,"v":0},{"r":6,"c":104,"v":0},{"r":6,"c":105,"v":0},{"r":6,"c":106,"v":0},{"r":6,"c":107,"v":0},{"r":6,"c":108,"v":0},{"r":6,"c":109,"v":0},
      {"r":6,"c":110,"v":0},{"r":6,"c":111,"v":0},{"r":6,"c":112,"v":0},{"r":6,"c":113,"v":0},{"r":6,"c":114,"v":0},{"r":6,"c":115,"v":0},{"r":6,"c":116,"v":0},{"r":6,"c":117,"v":0},{"r":6,"c":118,"v":0},{"r":6,"c":119,"v":0},
      {"r":6,"c":120,"v":0},{"r":6,"c":121,"v":0},{"r":6,"c":122,"v":0},{"r":6,"c":123,"v":0},{"r":6,"c":124,"v":0},{"r":6,"c":125,"v":0},{"r":6,"c":126,"v":0},{"r":6,"c":127,"v":0},{"r":6,"c":128,"v":0},{"r":6,"c":129,"v":0},
      {"r":6,"c":130,"v":0},{"r":6,"c":131,"v":0},{"r":6,"c":132,"v":0},{"r":6,"c":133,"v":0},{"r":6,"c":134,"v":0},{"r":6,"c":135,"v":0},{"r":6,"c":136,"v":0},{"r":6,"c":137,"v":0},{"r":6,"c":138,"v":0},{"r":6,"c":139,"v":0},
      {"r":6,"c":140,"v":0},{"r":6,"c":141,"v":0},{"r":6,"c":142,"v":0},{"r":6,"c":143,"v":0},{"r":6,"c":144,"v":0},{"r":6,"c":145,"v":0},{"r":6,"c":146,"v":0},{"r":6,"c":147,"v":0},{"r":6,"c":148,"v":0},{"r":6,"c":149,"v":0},
      {"r":6,"c":150,"v":0},{"r":6,"c":151,"v":0},{"r":6,"c":152,"v":0},{"r":6,"c":153,"v":0},{"r":6,"c":154,"v":0},{"r":6,"c":155,"v":0},{"r":6,"c":156,"v":0},{"r":6,"c":157,"v":0},{"r":6,"c":158,"v":0},{"r":6,"c":159,"v":0},

      {"r":7,"c":0,"v":0},{"r":7,"c":1,"v":0},{"r":7,"c":2,"v":1},{"r":7,"c":3,"v":0},{"r":7,"c":4,"v":1},{"r":7,"c":5,"v":0},{"r":7,"c":6,"v":1},{"r":7,"c":7,"v":1},{"r":7,"c":8,"v":1},{"r":7,"c":9,"v":1},
      {"r":7,"c":10,"v":0},{"r":7,"c":11,"v":0},{"r":7,"c":12,"v":0},{"r":7,"c":13,"v":0},{"r":7,"c":14,"v":0},{"r":7,"c":15,"v":0},{"r":7,"c":16,"v":0},{"r":7,"c":17,"v":0},{"r":7,"c":18,"v":1},{"r":7,"c":19,"v":0},
      {"r":7,"c":20,"v":0},{"r":7,"c":21,"v":1},{"r":7,"c":22,"v":0},{"r":7,"c":23,"v":0},{"r":7,"c":24,"v":1},{"r":7,"c":25,"v":1},{"r":7,"c":26,"v":1},{"r":7,"c":27,"v":0},{"r":7,"c":28,"v":1},{"r":7,"c":29,"v":0},
      {"r":7,"c":30,"v":0},{"r":7,"c":31,"v":1},{"r":7,"c":32,"v":1},{"r":7,"c":33,"v":1},{"r":7,"c":34,"v":1},{"r":7,"c":35,"v":1},{"r":7,"c":36,"v":1},{"r":7,"c":37,"v":1},{"r":7,"c":38,"v":1},{"r":7,"c":39,"v":1},
      {"r":7,"c":40,"v":1},{"r":7,"c":41,"v":1},{"r":7,"c":42,"v":1},{"r":7,"c":43,"v":1},{"r":7,"c":44,"v":1},{"r":7,"c":45,"v":1},{"r":7,"c":46,"v":1},{"r":7,"c":47,"v":1},{"r":7,"c":48,"v":1},{"r":7,"c":49,"v":1},
      {"r":7,"c":50,"v":1},{"r":7,"c":51,"v":1},{"r":7,"c":52,"v":1},{"r":7,"c":53,"v":1},{"r":7,"c":54,"v":1},{"r":7,"c":55,"v":1},{"r":7,"c":56,"v":1},{"r":7,"c":57,"v":1},{"r":7,"c":58,"v":1},{"r":7,"c":59,"v":1},
      {"r":7,"c":60,"v":1},{"r":7,"c":61,"v":1},{"r":7,"c":62,"v":1},{"r":7,"c":63,"v":1},{"r":7,"c":64,"v":1},{"r":7,"c":65,"v":1},{"r":7,"c":66,"v":1},{"r":7,"c":67,"v":1},{"r":7,"c":68,"v":1},{"r":7,"c":69,"v":1},
      {"r":7,"c":70,"v":1},{"r":7,"c":71,"v":1},{"r":7,"c":72,"v":1},{"r":7,"c":73,"v":1},{"r":7,"c":74,"v":1},{"r":7,"c":75,"v":1},{"r":7,"c":76,"v":1},{"r":7,"c":77,"v":1},{"r":7,"c":78,"v":1},{"r":7,"c":79,"v":1},
      {"r":7,"c":80,"v":1},{"r":7,"c":81,"v":1},{"r":7,"c":82,"v":1},{"r":7,"c":83,"v":1},{"r":7,"c":84,"v":1},{"r":7,"c":85,"v":1},{"r":7,"c":86,"v":1},{"r":7,"c":87,"v":1},{"r":7,"c":88,"v":1},{"r":7,"c":89,"v":1},
      {"r":7,"c":90,"v":1},{"r":7,"c":91,"v":1},{"r":7,"c":92,"v":1},{"r":7,"c":93,"v":1},{"r":7,"c":94,"v":1},{"r":7,"c":95,"v":1},{"r":7,"c":96,"v":1},{"r":7,"c":97,"v":1},{"r":7,"c":98,"v":1},{"r":7,"c":99,"v":1},
      {"r":7,"c":100,"v":1},{"r":7,"c":101,"v":1},{"r":7,"c":102,"v":1},{"r":7,"c":103,"v":1},{"r":7,"c":104,"v":1},{"r":7,"c":105,"v":1},{"r":7,"c":106,"v":1},{"r":7,"c":107,"v":1},{"r":7,"c":108,"v":1},{"r":7,"c":109,"v":1},
      {"r":7,"c":110,"v":1},{"r":7,"c":111,"v":1},{"r":7,"c":112,"v":1},{"r":7,"c":113,"v":1},{"r":7,"c":114,"v":1},{"r":7,"c":115,"v":1},{"r":7,"c":116,"v":1},{"r":7,"c":117,"v":1},{"r":7,"c":118,"v":1},{"r":7,"c":119,"v":1},
      {"r":7,"c":120,"v":1},{"r":7,"c":121,"v":1},{"r":7,"c":122,"v":1},{"r":7,"c":123,"v":1},{"r":7,"c":124,"v":1},{"r":7,"c":125,"v":1},{"r":7,"c":126,"v":1},{"r":7,"c":127,"v":0},{"r":7,"c":128,"v":1},{"r":7,"c":129,"v":0},
      {"r":7,"c":130,"v":1},{"r":7,"c":131,"v":1},{"r":7,"c":132,"v":1},{"r":7,"c":133,"v":1},{"r":7,"c":134,"v":1},{"r":7,"c":135,"v":1},{"r":7,"c":136,"v":1},{"r":7,"c":137,"v":1},{"r":7,"c":138,"v":1},{"r":7,"c":139,"v":1},
      {"r":7,"c":140,"v":0},{"r":7,"c":141,"v":1},{"r":7,"c":142,"v":1},{"r":7,"c":143,"v":1},{"r":7,"c":144,"v":1},{"r":7,"c":145,"v":1},{"r":7,"c":146,"v":1},{"r":7,"c":147,"v":1},{"r":7,"c":148,"v":0},{"r":7,"c":149,"v":1},
      {"r":7,"c":150,"v":1},{"r":7,"c":151,"v":1},{"r":7,"c":152,"v":0},{"r":7,"c":153,"v":1},{"r":7,"c":154,"v":0},{"r":7,"c":155,"v":0},{"r":7,"c":156,"v":0},{"r":7,"c":157,"v":0},{"r":7,"c":158,"v":0},{"r":7,"c":159,"v":1}
    ]
  },
  "layer": [
    {
      "mark": {"type": "rect", "strokeWidth": 1},
      "encoding": {
        "x": {
          "field": "c",
          "type": "ordinal",
          "scale": {"paddingInner": 0, "paddingOuter": 0},
          "axis": {"orient": "bottom", "values": [0, 20, 40, 60, 80, 100, 120, 140], "labelPadding": 38}
        },
        "y": {
          "field": "r",
          "type": "ordinal",
          "scale": {"paddingInner": 0, "paddingOuter": 0},
          "axis": {"orient": "left", "labelPadding": 35}
        },
        "color": {
          "field": "v",
          "type": "nominal",
          "scale": {"domain": [0, 1], "range": ["#ffff66", "#008066"]},
          "legend": null
        },
        "stroke": {
          "field": "v",
          "type": "nominal",
          "scale": {"domain": [0, 1], "range": ["#ffff66", "#008066"]},
          "legend": null
        }
      }
    },
    {
      "mark": {"type": "rect", "opacity": 0},
      "encoding": {
        "x": {
          "field": "c",
          "type": "ordinal",
          "axis": {"orient": "top", "values": [0, 20, 40, 60, 80, 100, 120, 140], "labels": false}
        },
        "y": {
          "field": "r",
          "type": "ordinal",
          "axis": {"orient": "right", "labels": false}
        }
      }
    }
  ],
  "resolve": {"axis": {"x": "independent", "y": "independent"}}
}
